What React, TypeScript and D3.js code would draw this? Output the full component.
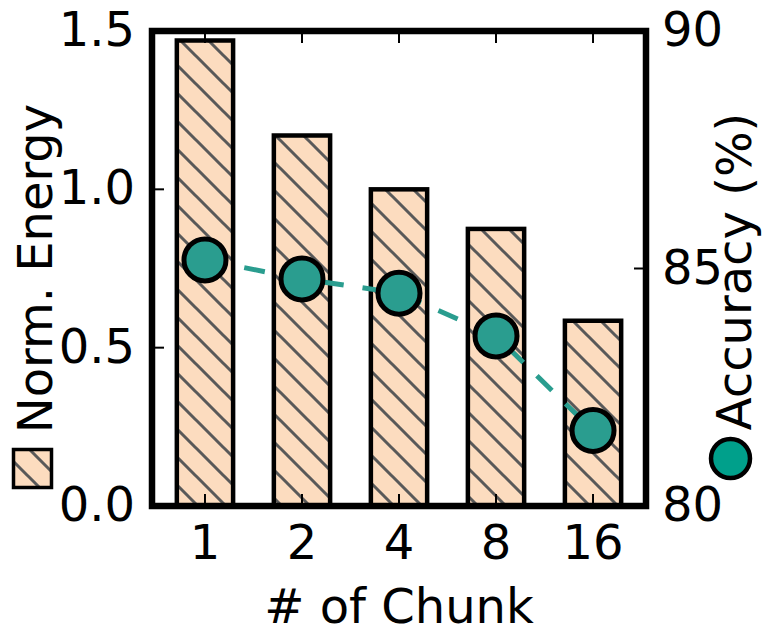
import React, { useEffect, useRef } from 'react'
import { select, scalePoint, scaleLinear, line } from 'd3'

// values
const chunks = ['1', '2', '4', '8', '16']
const energy = [1.47, 1.17, 1.0, 0.875, 0.585]
const accuracy = [85.18, 84.78, 84.48, 83.58, 81.59]
const energyTicks = [0, 0.5, 1.0, 1.5]
const accuracyTicks = [80, 85, 90]

export default function App() {
    const chart = useRef<SVGSVGElement>(null)

    const width = 764
    const height = 637
    const margin = { top: 31, right: 118, bottom: 131, left: 152 }
    const font = 'DejaVu Sans, sans-serif'
    const fontSize = 48
    const peach = '#fcdcbf'
    const teal = '#2a9d8f'

    useEffect(() => {
        const svg = select(chart.current)
            .attr('viewBox', [0, 0, width, height].join(' '))
            .attr('width', width)
            .attr('height', height)

        svg.selectAll('*').remove()

        const x0 = margin.left
        const x1 = width - margin.right
        const y0 = height - margin.bottom
        const y1 = margin.top

        const x = scalePoint<string>().domain(chunks).range([x0, x1]).padding(0.546)
        const yE = scaleLinear().domain([0, 1.5]).range([y0, y1])
        const yA = scaleLinear().domain([80, 90]).range([y0, y1])
        const barW = x.step() * 0.58

        // hatch pattern "\\" on peach
        const defs = svg.append('defs')
        const pat = defs.append('pattern')
            .attr('id', 'hatch')
            .attr('patternUnits', 'userSpaceOnUse')
            .attr('width', 28)
            .attr('height', 28)
        pat.append('rect').attr('width', 28).attr('height', 28).attr('fill', peach)
        pat.append('path')
            .attr('d', 'M-7,-7L35,35M-7,21L7,35M21,-7L35,7')
            .attr('stroke', '#595959')
            .attr('stroke-width', 3)

        // bars
        svg.append('g')
            .selectAll('rect')
            .data(energy)
            .join('rect')
            .attr('x', (d, i) => (x(chunks[i]) as number) - barW / 2)
            .attr('width', barW)
            .attr('y', d => yE(d))
            .attr('height', d => y0 - yE(d))
            .attr('fill', 'url(#hatch)')
            .attr('stroke', '#000')
            .attr('stroke-width', 4.5)

        // accuracy line
        const accLine = line<number>()
            .x((d, i) => x(chunks[i]) as number)
            .y(d => yA(d))
        svg.append('path')
            .datum(accuracy)
            .attr('fill', 'none')
            .attr('stroke', teal)
            .attr('stroke-width', 5)
            .attr('stroke-dasharray', '21,19')
            .attr('d', accLine)

        svg.append('g')
            .selectAll('circle')
            .data(accuracy)
            .join('circle')
            .attr('cx', (d, i) => x(chunks[i]) as number)
            .attr('cy', d => yA(d))
            .attr('r', 21)
            .attr('fill', teal)
            .attr('stroke', '#000')
            .attr('stroke-width', 5)

        // ticks, inward on every side
        const tickLen = 12
        const ticks = svg.append('g').attr('stroke', '#000').attr('stroke-width', 2)
        chunks.forEach(c => {
            const cx = x(c) as number
            ticks.append('line').attr('x1', cx).attr('x2', cx).attr('y1', y0).attr('y2', y0 - tickLen)
            ticks.append('line').attr('x1', cx).attr('x2', cx).attr('y1', y1).attr('y2', y1 + tickLen)
        })
        energyTicks.forEach(t => {
            ticks.append('line').attr('x1', x0).attr('x2', x0 + tickLen).attr('y1', yE(t)).attr('y2', yE(t))
        })
        accuracyTicks.forEach(t => {
            ticks.append('line').attr('x1', x1).attr('x2', x1 - tickLen).attr('y1', yA(t)).attr('y2', yA(t))
        })

        // frame
        svg.append('rect')
            .attr('x', x0).attr('y', y1)
            .attr('width', x1 - x0).attr('height', y0 - y1)
            .attr('fill', 'none')
            .attr('stroke', '#000')
            .attr('stroke-width', 6.5)

        const text = svg.append('g')
            .attr('font-family', font)
            .attr('font-size', fontSize)
            .attr('fill', '#000')

        text.selectAll('.xt')
            .data(chunks)
            .join('text')
            .attr('x', d => x(d) as number)
            .attr('y', y0 + 53)
            .attr('text-anchor', 'middle')
            .text(d => d)

        text.selectAll('.yl')
            .data(energyTicks)
            .join('text')
            .attr('x', x0 - 17)
            .attr('y', d => yE(d) + 15)
            .attr('text-anchor', 'end')
            .text(d => d.toFixed(1))

        text.selectAll('.yr')
            .data(accuracyTicks)
            .join('text')
            .attr('x', x1 + 16)
            .attr('y', d => yA(d) + 15)
            .attr('text-anchor', 'start')
            .text(d => d)

        text.append('text')
            .attr('x', (x0 + x1) / 2)
            .attr('y', 623)
            .attr('text-anchor', 'middle')
            .text('# of Chunk')

        text.append('text')
            .attr('transform', `translate(52,${(y0 + y1) / 2}) rotate(-90)`)
            .attr('text-anchor', 'middle')
            .text('Norm. Energy')

        text.append('text')
            .attr('transform', `translate(751,${(y0 + y1) / 2 + 3}) rotate(-90)`)
            .attr('text-anchor', 'middle')
            .text('Accuracy (%)')

        // legend handles sitting under the axis labels
        svg.append('rect')
            .attr('x', 13.5).attr('y', 449.5)
            .attr('width', 38).attr('height', 38)
            .attr('fill', 'url(#hatch)')
            .attr('stroke', '#000')
            .attr('stroke-width', 3.5)

        svg.append('circle')
            .attr('cx', 730.5).attr('cy', 458.5)
            .attr('r', 19.5)
            .attr('fill', '#00a08b')
            .attr('stroke', '#000')
            .attr('stroke-width', 4.5)
    }, [])

    return (
        <svg ref={chart} style={{ position: 'absolute', left: 0, top: 0, background: '#fff' }} />
    )
}
